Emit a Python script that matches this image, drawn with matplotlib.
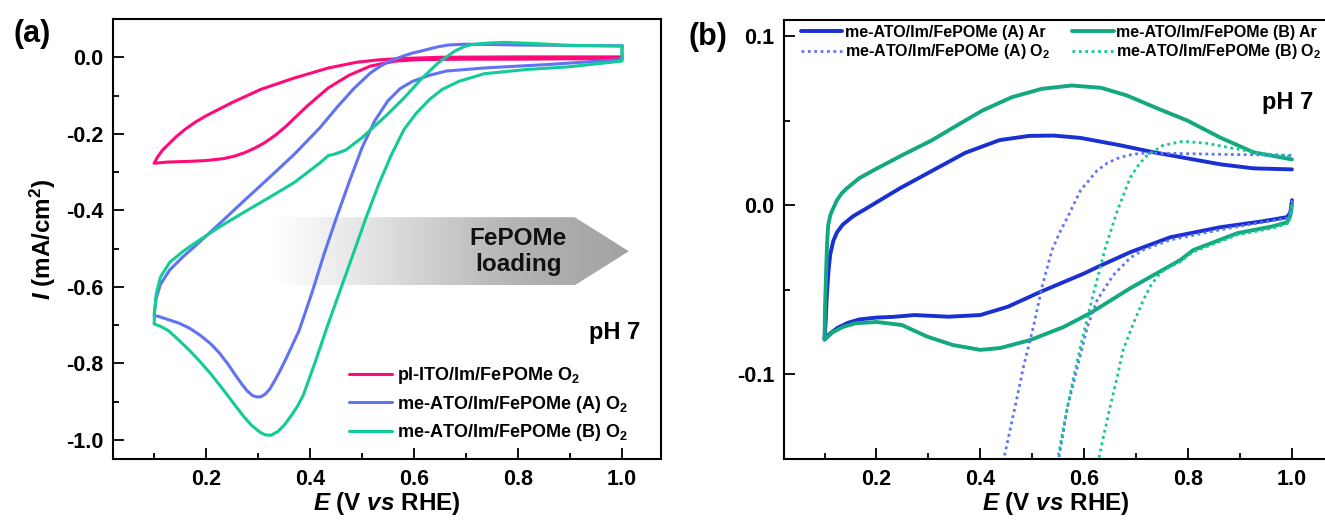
import numpy as np
from matplotlib import pyplot as plt
from matplotlib.patches import Polygon
from matplotlib.colors import LinearSegmentedColormap
from matplotlib.ticker import MultipleLocator, FormatStrFormatter

# ---- panel (a): CVs under O2 (closed loops) ----
pink_E = [1.0, 0.9, 0.8, 0.7, 0.613, 0.564, 0.516, 0.475, 0.435, 0.394, 0.354, 0.333,
          0.313, 0.293, 0.273, 0.253, 0.233, 0.2, 0.168, 0.125, 0.1, 0.106, 0.116, 0.128,
          0.143, 0.16, 0.18, 0.2, 0.249, 0.305, 0.37, 0.435, 0.49, 0.53, 0.572, 0.65,
          0.8, 1.0]
pink_I = [-0.004, -0.004, -0.005, -0.005, -0.006, -0.010, -0.023, -0.047, -0.080, -0.128,
          -0.180, -0.204, -0.223, -0.238, -0.250, -0.259, -0.265, -0.270, -0.272, -0.274,
          -0.277, -0.262, -0.243, -0.227, -0.207, -0.188, -0.169, -0.153, -0.119, -0.084,
          -0.054, -0.028, -0.013, -0.007, -0.0035, 0.0, 0.001, 0.001]

blueA_E = [1.0, 0.9, 0.8, 0.72, 0.694, 0.665, 0.645, 0.63, 0.613, 0.597, 0.581, 0.565,
           0.549, 0.532, 0.516, 0.484, 0.451, 0.419, 0.370, 0.322, 0.273, 0.225, 0.176,
           0.155, 0.13, 0.112, 0.104, 0.101, 0.1, 0.11, 0.128, 0.148, 0.168, 0.188, 0.208,
           0.225, 0.241, 0.255, 0.268, 0.279, 0.289, 0.298, 0.306, 0.314, 0.322, 0.330,
           0.342, 0.354, 0.379, 0.403, 0.427, 0.451, 0.476, 0.5, 0.524, 0.549, 0.573,
           0.597, 0.63, 0.662, 0.735, 0.856, 1.0, 1.0]
blueA_I = [0.030, 0.031, 0.032, 0.034, 0.034, 0.032, 0.027, 0.022, 0.016, 0.011, 0.004,
           -0.004, -0.013, -0.026, -0.041, -0.082, -0.132, -0.184, -0.253, -0.314, -0.375,
           -0.436, -0.497, -0.522, -0.556, -0.594, -0.630, -0.660, -0.675, -0.678, -0.686,
           -0.695, -0.708, -0.726, -0.748, -0.772, -0.800, -0.828, -0.853, -0.872, -0.884,
           -0.888, -0.887, -0.880, -0.868, -0.850, -0.820, -0.787, -0.714, -0.618, -0.514,
           -0.418, -0.323, -0.236, -0.167, -0.115, -0.082, -0.063, -0.047, -0.036, -0.028,
           -0.019, -0.006, 0.030]

greenB_E = [1.0, 0.9, 0.83, 0.775, 0.74, 0.71, 0.695, 0.678, 0.646, 0.613, 0.581, 0.549,
            0.516, 0.5, 0.468, 0.445, 0.435, 0.419, 0.37, 0.322, 0.273, 0.225, 0.176, 0.155,
            0.13, 0.112, 0.104, 0.101, 0.1, 0.112, 0.128, 0.148, 0.168, 0.188, 0.208, 0.225,
            0.241, 0.257, 0.273, 0.286, 0.298, 0.306, 0.314, 0.325, 0.338, 0.350, 0.362,
            0.375, 0.387, 0.411, 0.435, 0.46, 0.484, 0.508, 0.532, 0.557, 0.581, 0.605,
            0.63, 0.654, 0.686, 0.735, 0.816, 0.897, 1.0, 1.0]
greenB_I = [0.029, 0.031, 0.036, 0.039, 0.037, 0.033, 0.027, 0.016, -0.015, -0.058, -0.106,
            -0.149, -0.190, -0.210, -0.243, -0.254, -0.257, -0.276, -0.327, -0.366, -0.405,
            -0.444, -0.488, -0.508, -0.536, -0.575, -0.620, -0.665, -0.697, -0.703, -0.715,
            -0.740, -0.766, -0.795, -0.826, -0.855, -0.883, -0.912, -0.940, -0.960, -0.974,
            -0.982, -0.987, -0.988, -0.978, -0.962, -0.940, -0.914, -0.883, -0.792, -0.696,
            -0.601, -0.510, -0.418, -0.332, -0.253, -0.188, -0.145, -0.110, -0.084, -0.063,
            -0.043, -0.032, -0.025, -0.010, 0.029]

# ---- panel (b): Ar (solid) and O2 (dotted) ----
arA_E = [1.0, 0.997, 0.991, 0.943, 0.862, 0.766, 0.689, 0.625, 0.6, 0.515, 0.453, 0.4,
         0.339, 0.273, 0.232, 0.2, 0.167, 0.145, 0.125, 0.11, 0.1,
         0.102, 0.104, 0.106, 0.108, 0.111, 0.117, 0.124, 0.135, 0.155, 0.18, 0.207, 0.245,
         0.314, 0.371, 0.437, 0.494, 0.541, 0.593, 0.67, 0.734, 0.799, 0.862, 0.926, 1.0]
arA_I = [0.003, -0.004, -0.007, -0.0095, -0.013, -0.0189, -0.0277, -0.0366, -0.0403, -0.0513,
         -0.0600, -0.0649, -0.0659, -0.0649, -0.0660, -0.0664, -0.0675, -0.0695, -0.0725,
         -0.0760, -0.0790, -0.070, -0.056, -0.046, -0.038, -0.0290, -0.0210, -0.0160,
         -0.0115, -0.0065, -0.0020, 0.003, 0.010, 0.0215, 0.0310, 0.0385, 0.0410, 0.0412,
         0.0398, 0.0354, 0.0313, 0.0277, 0.0242, 0.0218, 0.0212]

arB_E = [1.0, 0.997, 0.991, 0.964, 0.895, 0.81, 0.785, 0.689, 0.612, 0.56, 0.496, 0.438,
         0.4, 0.347, 0.298, 0.249, 0.2, 0.159, 0.135, 0.115, 0.1,
         0.101, 0.103, 0.105, 0.107, 0.111, 0.115, 0.124, 0.133, 0.143, 0.167, 0.2, 0.249,
         0.306, 0.355, 0.404, 0.461, 0.518, 0.576, 0.633, 0.682, 0.739, 0.799, 0.862, 0.926,
         1.0]
arB_I = [0.0, -0.006, -0.010, -0.0124, -0.0165, -0.0265, -0.0324, -0.049, -0.0637, -0.072,
         -0.0797, -0.0844, -0.0855, -0.0826, -0.0777, -0.0708, -0.0690, -0.0698, -0.0720,
         -0.0752, -0.0796, -0.060, -0.040, -0.022, -0.012, -0.006, -0.003, 0.003, 0.007,
         0.0100, 0.0160, 0.0216, 0.0295, 0.0383, 0.0472, 0.0560, 0.0639, 0.0688, 0.0708,
         0.0694, 0.0649, 0.0575, 0.0500, 0.0400, 0.0313, 0.0271]

o2A_cat_E = [1.0, 0.995, 0.93, 0.862, 0.766, 0.713, 0.689, 0.656, 0.625, 0.606, 0.587,
             0.568, 0.55]
o2A_cat_I = [0.003, -0.0075, -0.0108, -0.0145, -0.0205, -0.0265, -0.031, -0.0413, -0.056,
             -0.072, -0.0956, -0.119, -0.1516]
o2A_an_E = [0.444, 0.467, 0.483, 0.502, 0.519, 0.538, 0.553, 0.568, 0.593, 0.625, 0.645,
            0.664, 0.685, 0.708, 0.766, 0.862, 1.0]
o2A_an_I = [-0.1516, -0.119, -0.0956, -0.072, -0.048, -0.0265, -0.016, -0.007, 0.0088,
            0.0206, 0.0250, 0.0277, 0.0296, 0.0307, 0.0307, 0.0301, 0.0295]

o2B_cat_E = [1.0, 0.995, 0.964, 0.895, 0.81, 0.785, 0.755, 0.741, 0.727, 0.714, 0.695,
             0.675, 0.664, 0.65, 0.637, 0.627]
o2B_cat_I = [0.0, -0.0105, -0.0135, -0.0175, -0.0275, -0.0334, -0.038, -0.042, -0.048,
             -0.056, -0.0696, -0.0855, -0.101, -0.119, -0.137, -0.1516]
o2B_an_E = [0.548, 0.564, 0.58, 0.599, 0.618, 0.64, 0.664, 0.689, 0.705, 0.721, 0.752, 0.79,
            0.836, 0.887, 0.939, 1.0]
o2B_an_I = [-0.1516, -0.125, -0.101, -0.0755, -0.052, -0.026, -0.003, 0.0165, 0.0240,
            0.0295, 0.0354, 0.0378, 0.0366, 0.0336, 0.0307, 0.0289]

labels_a = ['pl-ITO/Im/FePOMe O$_2$', 'me-ATO/Im/FePOMe (A) O$_2$', 'me-ATO/Im/FePOMe (B) O$_2$']
labels_b = ['me-ATO/Im/FePOMe (A) Ar', 'me-ATO/Im/FePOMe (A) O$_2$',
            'me-ATO/Im/FePOMe (B) Ar', 'me-ATO/Im/FePOMe (B) O$_2$']

plt.rcParams['font.family'] = 'Liberation Sans'
plt.rcParams['font.weight'] = 'bold'
plt.rcParams['axes.labelweight'] = 'bold'
plt.rcParams['mathtext.fontset'] = 'custom'
plt.rcParams['mathtext.rm'] = 'Liberation Sans:bold'
plt.rcParams['mathtext.it'] = 'Liberation Sans:italic:bold'
plt.rcParams['mathtext.bf'] = 'Liberation Sans:bold'
plt.rcParams['axes.unicode_minus'] = False
plt.rcParams['lines.solid_joinstyle'] = 'round'
plt.rcParams['lines.solid_capstyle'] = 'round'

fig = plt.figure(figsize=(13.25, 5.28), dpi=100)
ax1 = fig.add_axes([0.0853, 0.1307, 0.4136, 0.8333])
ax2 = fig.add_axes([0.5917, 0.1307, 0.4108, 0.8314])

def style(ax):
    for s in ax.spines.values():
        s.set_linewidth(1.5)
    ax.tick_params(which='both', direction='in', top=False, right=False, width=1.3,
                   labelsize=15.5, pad=7)
    ax.tick_params(which='major', length=8)
    ax.tick_params(which='minor', length=4.5)
    ax.xaxis.set_major_locator(MultipleLocator(0.2))
    ax.xaxis.set_minor_locator(MultipleLocator(0.1))
    ax.xaxis.set_major_formatter(FormatStrFormatter('%.1f'))
    ax.set_xlabel('$E$ (V $vs$ RHE)', fontsize=17.5, labelpad=0)

# (a)
pink, blue_a, green_a = '#ff0a78', '#6073f2', '#12cc98'
lw_a = 2.2
ax1.plot(pink_E, pink_I, color=pink, lw=lw_a, label=labels_a[0], zorder=3)
ax1.plot(blueA_E, blueA_I, color=blue_a, lw=lw_a, label=labels_a[1], zorder=3)
ax1.plot(greenB_E, greenB_I, color=green_a, lw=lw_a, label=labels_a[2], zorder=3)

# gradient arrow "FePOMe loading"
x0, xh, xt = 0.33, 0.909, 1.013
yt, yb = -0.418, -0.596
arrow = Polygon([[x0, yt], [xh, yt], [xt, (yt + yb) / 2], [xh, yb], [x0, yb]],
                closed=True, facecolor='none', edgecolor='none')
ax1.add_patch(arrow)
cmap = LinearSegmentedColormap.from_list('g', ['#ffffff', '#dcdcdc', '#b4b4b4', '#a2a2a2'])
grad = np.linspace(0, 1, 256).reshape(1, -1)
im = ax1.imshow(grad, extent=(x0, xt, yb, yt), aspect='auto', cmap=cmap, zorder=1,
                interpolation='bilinear')
im.set_clip_path(arrow)
ax1.text(0.80, -0.508, 'FePOMe\nloading', ha='center', va='center', fontsize=17.5,
         linespacing=1.15, color='#111111', zorder=2)
ax1.text(0.986, -0.72, 'pH 7', ha='center', va='center', fontsize=17)

ax1.set_xlim(0.021, 1.075)
ax1.set_ylim(-1.05, 0.1)
style(ax1)
ax1.yaxis.set_major_locator(MultipleLocator(0.2))
ax1.yaxis.set_minor_locator(MultipleLocator(0.1))
ax1.yaxis.set_major_formatter(FormatStrFormatter('%.1f'))
ax1.set_ylabel('$I$ (mA/cm$^2$)', fontsize=17.5, labelpad=6)
ax1.legend(loc='upper left', bbox_to_anchor=(0.420, 0.225), frameon=False, fontsize=13,
           handlelength=2.4, handletextpad=0.3, labelspacing=0.4, borderpad=0.3,
           borderaxespad=0)

# (b)
blue_ar, green_ar = '#1a30d2', '#14a880'
blue_o2, green_o2 = '#5f73f5', '#14c892'
dots = (0, (1, 1.3))
ax2.plot(arA_E, arA_I, color=blue_ar, lw=2.8, label=labels_b[0], zorder=3)
ax2.plot(arB_E, arB_I, color=green_ar, lw=2.8, label=labels_b[2], zorder=3)
ax2.plot(o2A_cat_E, o2A_cat_I, color=blue_o2, lw=2, ls=dots, label=labels_b[1], zorder=4)
ax2.plot(o2A_an_E, o2A_an_I, color=blue_o2, lw=2, ls=dots, zorder=4)
ax2.plot(o2B_cat_E, o2B_cat_I, color=green_o2, lw=2, ls=dots, label=labels_b[3], zorder=4)
ax2.plot(o2B_an_E, o2B_an_I, color=green_o2, lw=2, ls=dots, zorder=4)
ax2.text(0.992, 0.061, 'pH 7', ha='center', va='center', fontsize=17)

ax2.set_xlim(0.022, 1.07)
ax2.set_ylim(-0.15, 0.1095)
style(ax2)
ax2.yaxis.set_major_locator(MultipleLocator(0.1))
ax2.yaxis.set_minor_locator(MultipleLocator(0.05))
ax2.yaxis.set_major_formatter(FormatStrFormatter('%.1f'))
h, l = ax2.get_legend_handles_labels()
order = [0, 2, 1, 3]
ax2.legend([h[i] for i in order], [l[i] for i in order], loc='upper left', ncol=2,
           bbox_to_anchor=(0.022, 1.0), frameon=False, fontsize=11.5, handlelength=2.6,
           handletextpad=0.15, labelspacing=0.15, columnspacing=1.4, borderpad=0.3,
           borderaxespad=0)

fig.text(0.024, 0.935, '(a)', fontsize=22, ha='center', va='center')
fig.text(0.534, 0.93, '(b)', fontsize=22, ha='center', va='center')

fig.savefig('out.png', dpi=100)
